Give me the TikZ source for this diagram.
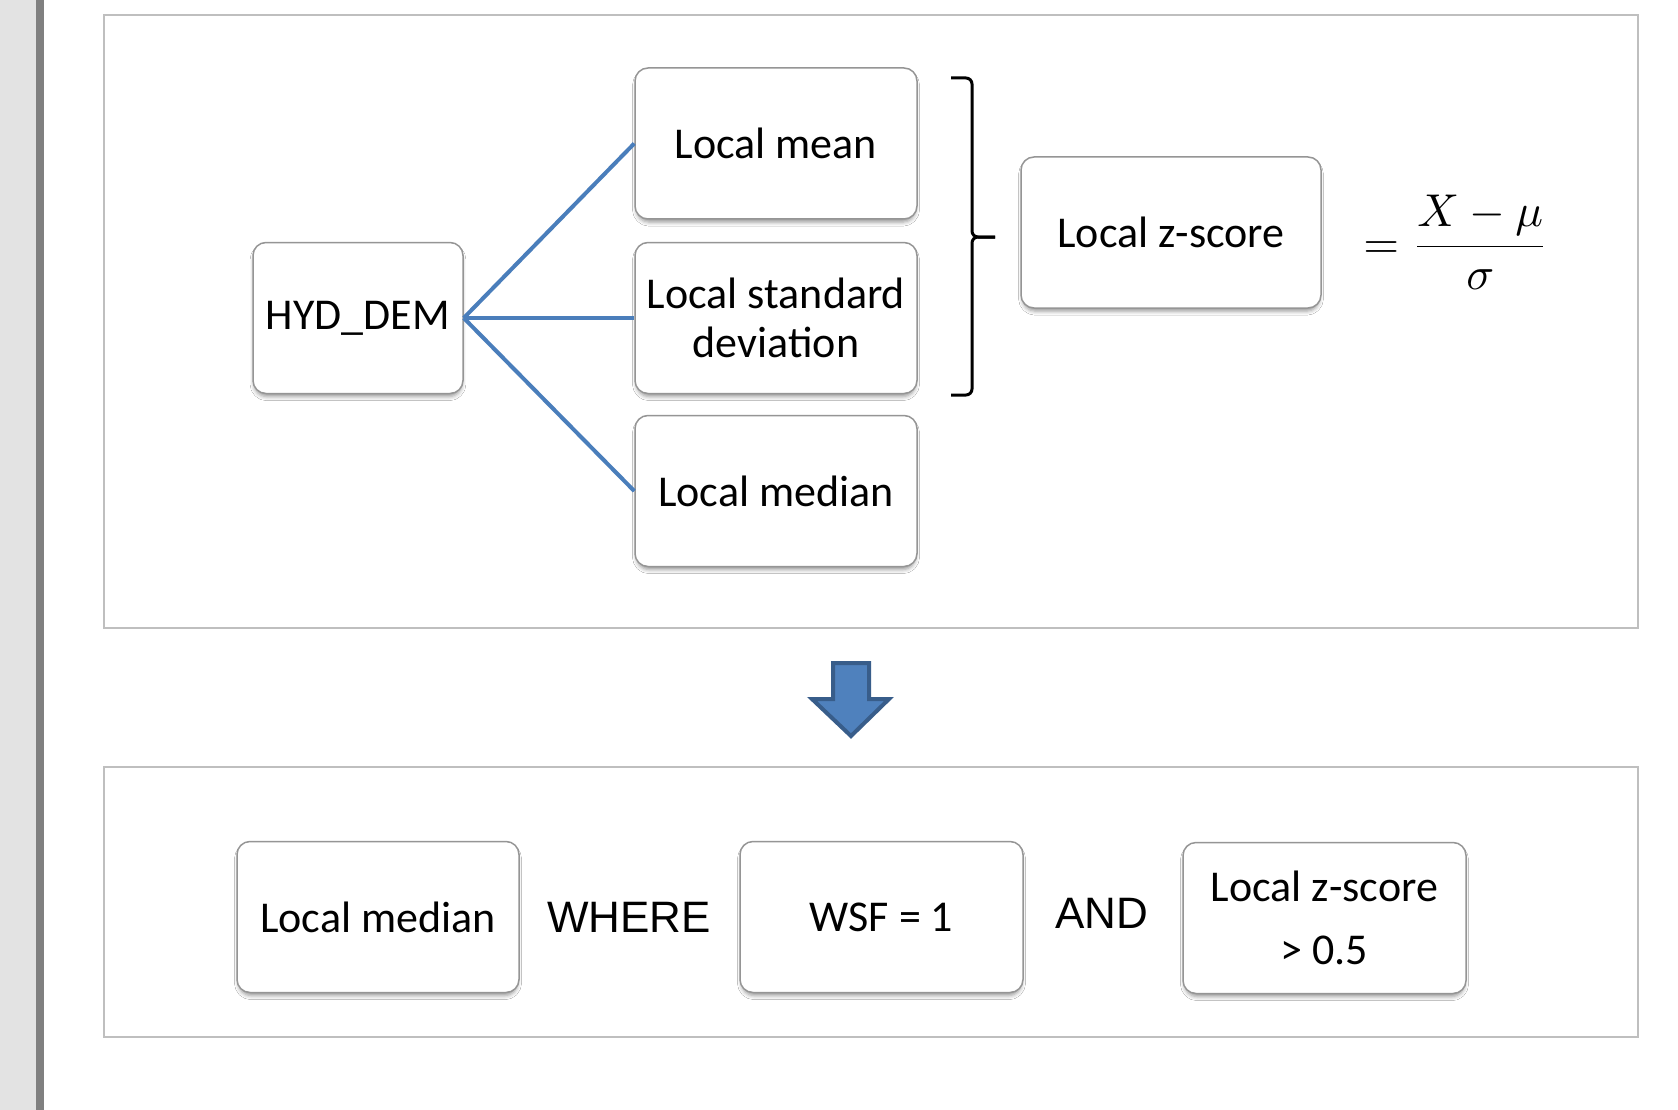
\documentclass[tikz,border=0pt]{standalone}
\usepackage{amsmath}
\usepackage{fontspec}
\setmainfont{Carlito}
\newfontfamily\arialfont{Liberation Sans}
\usepackage{tikz}
\usetikzlibrary{shadows.blur}
\definecolor{linkblue}{HTML}{4A7EBB}
\definecolor{arrfill}{HTML}{4F81BD}
\definecolor{arrdraw}{HTML}{385D8A}
\definecolor{boxgray}{HTML}{959595}
\definecolor{framegray}{HTML}{BFBFBF}

\begin{document}
\begin{tikzpicture}[x=1pt,y=-1pt,
  blk/.style={rounded corners=13pt,draw=boxgray,line width=1.5pt,fill=white,align=center,
    minimum width=282pt,minimum height=151pt,inner sep=4pt,
    font=\fontsize{44}{49}\selectfont,
    blur shadow={shadow xshift=0pt,shadow yshift=-4pt,shadow opacity=40,shadow blur radius=4pt,
      shadow scale=0.99}},
  lnk/.style={linkblue,line width=4pt},
  frame/.style={draw=framegray,line width=1.5pt},
  word/.style={font=\arialfont\fontsize{44}{49}\selectfont}]
\useasboundingbox (0,0) rectangle (1678,1110);
\fill[white] (0,0) rectangle (1678,1110);
% page margin on the left
\fill[gray!22] (0,0) rectangle (36,1110);
\fill[gray] (36,0) rectangle (44,1110);

% top panel: local statistics of the DEM
\draw[frame] (104,15) rectangle (1638,628);
\node[blk,minimum width=210pt] (hyd) at (358,318) {HYD\_DEM};
\node[blk] (mean) at (776,143.5) {Local mean};
\node[blk] (std) at (776,318) {Local standard\\deviation};
\node[blk] (med) at (776,491) {Local median};
\node[blk,minimum width=300pt] (zs) at (1171,232.5) {Local z-score};
\draw[lnk] (hyd.east) -- (mean.west);
\draw[lnk] (hyd.east) -- (std.west);
\draw[lnk] (hyd.east) -- (med.west);
% brace over mean and standard deviation
\draw[line width=3pt,rounded corners=6pt] (951,78) -- (972,78) -- (972,237) -- (995,237);
\draw[line width=3pt,rounded corners=6pt] (995,237) -- (972,237) -- (972,395) -- (951,395);
\node[anchor=base,inner sep=0pt] (zf) at (1456,258) {\scalebox{4.6}{$=\dfrac{X-\mu}{\sigma}$}};

% block arrow between the panels
\draw[fill=arrfill,draw=arrdraw,line width=4pt,line join=miter]
  (833,663) -- (869,663) -- (869,699) -- (889,699) -- (851,736) -- (812,699) -- (833,699) -- cycle;

% bottom panel: selection rule
\draw[frame] (104,767) rectangle (1638,1037);
\node[blk] (medb) at (378,917) {Local median};
\node[word] (where) at (629,917) {WHERE};
\node[blk,minimum width=283pt] (wsf) at (881.5,917) {WSF = 1};
\node[word] (and) at (1102,913) {AND};
\node[blk,minimum width=283pt] (zsb) at (1324.5,918) {Local z-score\\[14pt]> 0.5};
\end{tikzpicture}
\end{document}
